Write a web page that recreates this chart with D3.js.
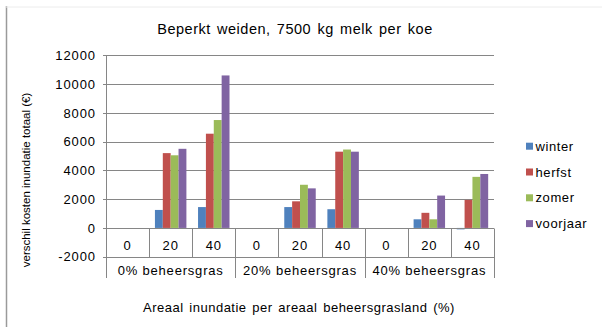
<!DOCTYPE html>
<html>
<head>
<meta charset="utf-8">
<script src="https://cdn.jsdelivr.net/npm/d3@7"></script>
<style>
  html, body { margin: 0; padding: 0; background: #fff; }
  svg { display: block; font-family: "Liberation Sans", Arial, sans-serif; }
</style>
</head>
<body>
<svg id="chart" width="602" height="327"></svg>
<script>
// Chart data
const groups = ["0% beheersgras", "20% beheersgras", "40% beheersgras"];
const subCategories = ["0", "20", "40"];
const seriesNames = ["winter", "herfst", "zomer", "voorjaar"];
const seriesColors = ["#4F81BD", "#C0504D", "#9BBB59", "#8064A2"];
const winter   = [0, 1250, 1450,  0, 1450, 1300,  0,  600, -100];
const herfst   = [0, 5200, 6550,  0, 1850, 5300,  0, 1050, 1950];
const zomer    = [0, 5050, 7500,  0, 3000, 5450,  0,  600, 3550];
const voorjaar = [0, 5500, 10600, 0, 2750, 5300,  0, 2250, 3750];
const yTicks = [-2000, 0, 2000, 4000, 6000, 8000, 10000, 12000];

(function () {
const seriesValues = [winter, herfst, zomer, voorjaar];
const categories = [];
groups.forEach((g, gi) => subCategories.forEach((s, si) => categories.push({ key: gi + "-" + si, group: g, label: s })));

const svg = d3.select("#chart");
const gridColor = "#868686";
const textColor = "#000";
const fontFamily = "Liberation Sans, Arial, sans-serif";

// Outer chart frame
svg.append("line").attr("x1", 6.5).attr("x2", 6.5).attr("y1", 6).attr("y2", 327)
  .attr("stroke", "#9a9a9a").attr("stroke-width", 1.5);
svg.append("line").attr("x1", 6).attr("x2", 602).attr("y1", 7).attr("y2", 7)
  .attr("stroke", "#ececec").attr("stroke-width", 1);

// Plot area
const plotLeft = 106, plotRight = 494, plotTop = 55.3, plotBottom = 256.7;
const x = d3.scaleBand().domain(categories.map(d => d.key)).range([plotLeft, plotRight]).padding(0);
const xs = d3.scaleBand().domain(seriesNames).range([0, x.bandwidth()]).paddingInner(0).paddingOuter(0.74);
const y = d3.scaleLinear().domain([-2000, 12000]).range([plotBottom, plotTop]);

// Gridlines
svg.append("g").selectAll("line").data(yTicks).join("line")
  .attr("x1", plotLeft - 3).attr("x2", plotRight)
  .attr("y1", d => Math.round(y(d)) + 0.5).attr("y2", d => Math.round(y(d)) + 0.5)
  .attr("stroke", gridColor).attr("stroke-width", 1);

// Value axis tick labels
const yAxis = d3.axisLeft(y).tickValues(yTicks).tickSize(0).tickPadding(10)
  .tickFormat(d => String(d));
const yg = svg.append("g").attr("transform", `translate(${plotLeft},0)`).call(yAxis);
yg.select(".domain").remove();
yg.attr("font-family", fontFamily);
yg.selectAll("text").attr("font-size", 13).attr("fill", textColor).attr("letter-spacing", 0.9);

// Bars
const barG = svg.append("g");
seriesNames.forEach((name, si) => {
  barG.selectAll(null).data(seriesValues[si]).join("rect")
    .attr("x", (d, i) => x(categories[i].key) + xs(name))
    .attr("width", xs.bandwidth())
    .attr("y", d => y(Math.max(0, d)))
    .attr("height", d => Math.abs(y(d) - y(0)))
    .attr("fill", seriesColors[si]);
});

// Category axis: zero line, separators, labels
const axisBottom = 278;
const zeroY = Math.round(y(0)) + 0.5;
svg.append("line").attr("x1", plotLeft).attr("x2", plotRight).attr("y1", zeroY).attr("y2", zeroY)
  .attr("stroke", gridColor);
svg.append("line").attr("x1", plotLeft + 0.5).attr("x2", plotLeft + 0.5).attr("y1", plotTop).attr("y2", axisBottom)
  .attr("stroke", gridColor);
const boundaries = categories.map(d => x(d.key)).concat([plotRight]);
svg.append("g").selectAll("line").data(boundaries).join("line")
  .attr("x1", d => Math.round(d) + 0.5).attr("x2", d => Math.round(d) + 0.5)
  .attr("y1", zeroY)
  .attr("y2", (d, i) => (i % 3 === 0) ? axisBottom : Math.round(y(-2000)))
  .attr("stroke", gridColor);

svg.append("g").selectAll("text").data(categories).join("text")
  .attr("x", d => x(d.key) + x.bandwidth() / 2)
  .attr("y", 250)
  .attr("text-anchor", "middle").attr("font-size", 13).attr("letter-spacing", 0.9)
  .attr("fill", textColor)
  .text(d => d.label);

svg.append("g").selectAll("text").data(groups).join("text")
  .attr("x", (d, i) => x(i + "-1") + x.bandwidth() / 2)
  .attr("y", 275)
  .attr("text-anchor", "middle").attr("font-size", 13).attr("letter-spacing", 0.8)
  .attr("fill", textColor)
  .text(d => d);

// Titles
svg.append("text").attr("x", 295).attr("y", 33.5).attr("text-anchor", "middle")
  .attr("font-size", 14.5).attr("letter-spacing", 0.5).attr("word-spacing", 1.8)
  .attr("fill", textColor).text("Beperkt weiden, 7500 kg melk per koe");

svg.append("text").attr("transform", "translate(30,180) rotate(-90)").attr("text-anchor", "middle")
  .attr("font-size", 11.5)
  .attr("fill", textColor).text("verschil kosten inundatie totaal (€)");

svg.append("text").attr("x", 299).attr("y", 312).attr("text-anchor", "middle")
  .attr("font-size", 13).attr("letter-spacing", 0.5).attr("word-spacing", 1.6)
  .attr("fill", textColor).text("Areaal inundatie per areaal beheersgrasland (%)");

// Legend
const legend = svg.append("g").selectAll("g").data(seriesNames).join("g")
  .attr("transform", (d, i) => `translate(526,${142.7 + i * 25.8})`);
legend.append("rect").attr("width", 7).attr("height", 7)
  .attr("fill", (d, i) => seriesColors[i]);
legend.append("text").attr("x", 9.5).attr("y", 8)
  .attr("font-size", 13).attr("letter-spacing", 0.6).attr("fill", textColor)
  .text(d => d);
})();
</script>
</body>
</html>
